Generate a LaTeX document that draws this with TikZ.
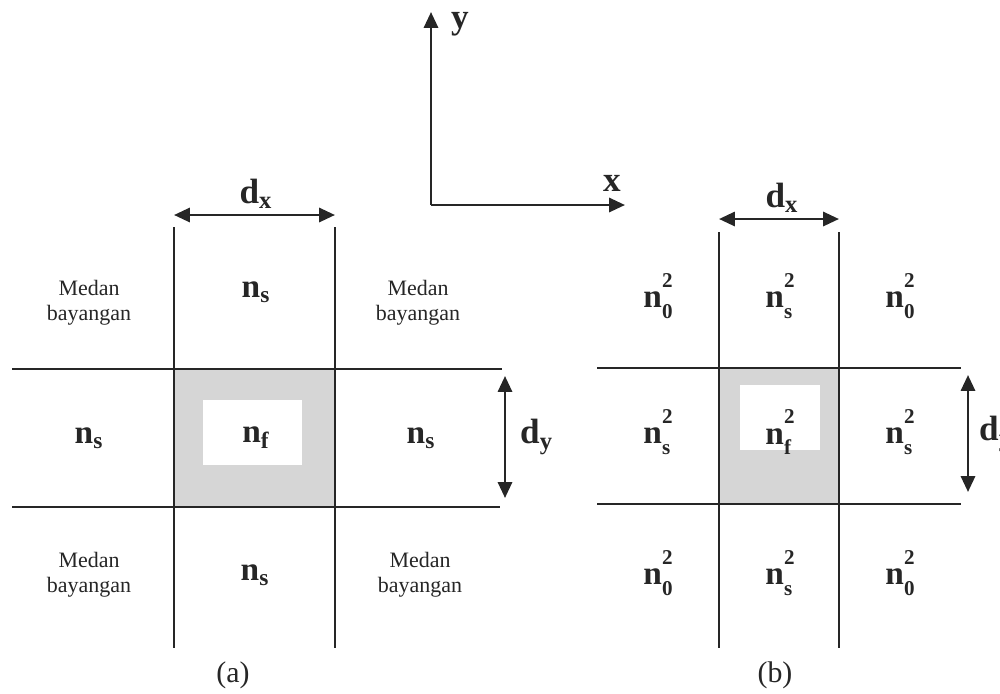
\documentclass[tikz,border=0pt]{standalone}
\usepackage{fontspec}
\setmainfont{Liberation Serif}
\usepackage{tikz}
\usetikzlibrary{arrows.meta}

\newcommand{\nsq}[1]{n\rlap{\raisebox{-0.32em}{\fontsize{12}{12}\selectfont #1}}\raisebox{0.62em}{\fontsize{12}{12}\selectfont 2}}

\begin{document}
\begin{tikzpicture}[x=0.2mm, y=-0.2mm,
  gridline/.style={line width=1.6pt, color=black!85},
  core/.style={fill=black!16},
  hole/.style={fill=white},
  dim/.style={{Triangle[length=9pt,width=8pt]}-{Triangle[length=9pt,width=8pt]}, line width=1.5pt, color=black!85},
  axis/.style={-{Triangle[length=9pt,width=8pt]}, line width=1.5pt, color=black!85},
  index/.style={font=\fontsize{19}{20}\selectfont\bfseries, text=black!85},
  shadowtxt/.style={font=\fontsize{12.5}{14}\selectfont, align=center, text=black!85},
  dimlbl/.style={font=\fontsize{20}{22}\selectfont\bfseries, text=black!85},
  caption/.style={font=\fontsize{17}{20}\selectfont, text=black!85},
]
  \useasboundingbox (0,0) rectangle (1000,693);

  % axes
  \coordinate (origin) at (431,205);
  \coordinate (ytip) at (431,12);
  \coordinate (xtip) at (625,205);
  \draw[axis] (origin) -- (ytip);
  \draw[axis] (origin) -- (xtip);
  \node[dimlbl] (ylabel) at (460,24) {y};
  \node[dimlbl] (xlabel) at (612,183) {x};

  % (a)
  \fill[core] (174,369) rectangle (335,507);
  \fill[hole] (203,400) rectangle (302,465);
  \draw[gridline] (174,227) -- (174,648);
  \draw[gridline] (335,227) -- (335,648);
  \draw[gridline] (12,369) -- (502,369);
  \draw[gridline] (12,507) -- (500,507);

  \coordinate (adxl) at (174,215);
  \coordinate (adxr) at (335,215);
  \draw[dim] (adxl) -- (adxr);
  \node[dimlbl] (adx) at (256,194) {d\textsubscript{x}};
  \coordinate (adyt) at (505,376);
  \coordinate (adyb) at (505,498);
  \draw[dim] (adyt) -- (adyb);
  \node[dimlbl, anchor=west] (ady) at (514,437) {d\textsubscript{y}};

  \node[shadowtxt] (a11) at (89,303) {Medan\\bayangan};
  \node[index] (a12) at (256,292) {n\textsubscript{s}};
  \node[shadowtxt] (a13) at (418,303) {Medan\\bayangan};
  \node[index] (a21) at (89,438) {n\textsubscript{s}};
  \node[index] (a22) at (256,438) {n\textsubscript{f}};
  \node[index] (a23) at (421,438) {n\textsubscript{s}};
  \node[shadowtxt] (a31) at (89,575) {Medan\\bayangan};
  \node[index] (a32) at (255,575) {n\textsubscript{s}};
  \node[shadowtxt] (a33) at (420,575) {Medan\\bayangan};
  \node[caption] (capa) at (233,675) {(a)};

  % (b)
  \fill[core] (719,368) rectangle (839,504);
  \fill[hole] (740,385) rectangle (820,450);
  \draw[gridline] (719,232) -- (719,648);
  \draw[gridline] (839,232) -- (839,648);
  \draw[gridline] (597,368) -- (961,368);
  \draw[gridline] (597,504) -- (961,504);

  \coordinate (bdxl) at (719,219);
  \coordinate (bdxr) at (839,219);
  \draw[dim] (bdxl) -- (bdxr);
  \node[dimlbl] (bdx) at (782,198) {d\textsubscript{x}};
  \coordinate (bdyt) at (968,375);
  \coordinate (bdyb) at (968,492);
  \draw[dim] (bdyt) -- (bdyb);
  \node[dimlbl, anchor=west] (bdy) at (973,434) {d\textsubscript{y}};

  \node[index] (b11) at (658,296) {\nsq{0}};
  \node[index] (b12) at (780,296) {\nsq{s}};
  \node[index] (b13) at (900,296) {\nsq{0}};
  \node[index] (b21) at (658,432) {\nsq{s}};
  \node[index] (b22) at (780,432) {\nsq{f}};
  \node[index] (b23) at (900,432) {\nsq{s}};
  \node[index] (b31) at (658,573) {\nsq{0}};
  \node[index] (b32) at (780,573) {\nsq{s}};
  \node[index] (b33) at (900,573) {\nsq{0}};
  \node[caption] (capb) at (775,675) {(b)};
\end{tikzpicture}
\end{document}
